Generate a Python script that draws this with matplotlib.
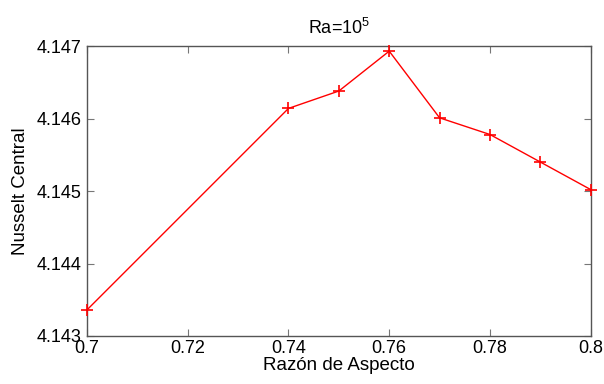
import matplotlib
matplotlib.use('Agg')
import matplotlib.pyplot as plt
import numpy as np

plt.rcParams.update({
    "font.family": ["Liberation Sans", "DejaVu Sans"],
    "font.size": 13,
    "mathtext.fontset": "custom",
    "mathtext.rm": "Liberation Sans",
})

# razon de aspecto vs nusselt central
aspect = [0.70, 0.74, 0.75, 0.76, 0.77, 0.78, 0.79, 0.80]
nusselt = [4.14336, 4.14614, 4.14638, 4.14693, 4.14601, 4.14578, 4.14540, 4.14502]

xticks = [0.7, 0.72, 0.74, 0.76, 0.78, 0.8]
xticklabels = ["0.7", "0.72", "0.74", "0.76", "0.78", "0.8"]
yticks = [4.143, 4.144, 4.145, 4.146, 4.147]

fig = plt.figure(figsize=(6.04, 3.84), dpi=100)
ax = fig.add_axes([0.144, 0.125, 0.834, 0.755])

ax.plot(aspect, nusselt, color="red", marker="+", markersize=8,
        markeredgewidth=1.2, linewidth=1.0, clip_on=False, zorder=3)

ax.set_xlim(0.7, 0.8)
ax.set_ylim(4.143, 4.147)
ax.set_xticks(xticks)
ax.set_xticklabels(xticklabels)
ax.set_yticks(yticks)
ax.set_yticklabels([f"{v:.3f}" for v in yticks])

for s in ax.spines.values():
    s.set_color("#555555")
    s.set_linewidth(1.0)
ax.tick_params(direction="in", top=True, right=True, length=5,
               color="#777777", labelsize=13, pad=4)
ax.tick_params(axis="x", pad=3)

ax.set_xlabel("Razón de Aspecto", fontsize=13.5, labelpad=0)
ax.set_ylabel("Nusselt Central", fontsize=13.5, labelpad=5)
ax.set_title("Ra=10$^5$", fontsize=13, pad=9)

fig.savefig("out.png", dpi=100)
